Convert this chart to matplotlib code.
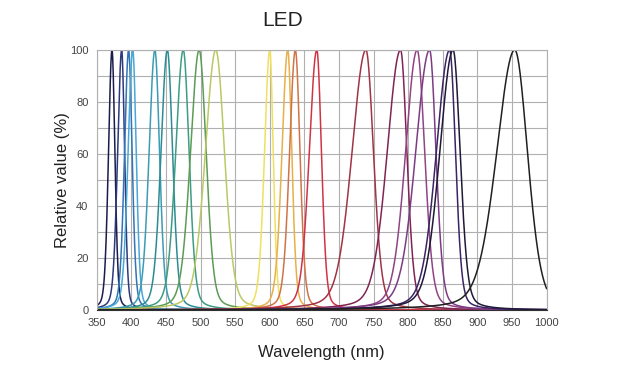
import numpy as np
import matplotlib.pyplot as plt

# peak wavelength (nm) of each LED
peaks = [372, 386, 396, 402, 434, 452, 475, 498, 522,
         600, 626, 637, 668, 739, 789, 813, 831, 860, 865, 954]
# half width at half max, short side / long side (nm), estimated
hw_left = [6, 7, 7, 8, 10, 11, 13, 15, 18,
           9, 10, 10, 13, 24, 23, 20, 24, 23, 23, 31]
hw_right = [5, 5, 6, 6, 8, 9, 10, 12, 15,
            6, 7, 8, 8, 13, 11, 13, 11, 10, 12, 22]
colors = ['#1c1c4c', '#2c3a7c', '#3474b4', '#48a8d8', '#3c9cb4', '#2c8c94',
          '#3c9c84', '#5c9c54', '#bcc864', '#f0e060', '#e8b048', '#d07448',
          '#d03444', '#a03444', '#802454', '#904484', '#7c3c84', '#3c2464',
          '#201838', '#202020']

plt.rcParams['font.family'] = ['Liberation Sans', 'DejaVu Sans']

fig = plt.figure(figsize=(6.43, 3.75), dpi=100)
ax = fig.add_axes([0.1505, 0.1733, 0.6995, 0.6934])

wl = np.linspace(350, 1000, 1500)
for p, hl, hr, c in zip(peaks, hw_left, hw_right, colors):
    hw = np.where(wl < p, hl, hr)
    u = (wl - p) / hw
    y = 100 * (0.75 * np.exp(-np.log(2) * u**2) + 0.25 / (1 + u**2))
    ax.plot(wl, y, color=c, lw=1.1)

ax.set_xlim(350, 1000)
ax.set_ylim(0, 100)
ax.set_xticks(np.arange(350, 1001, 50))
ax.set_yticks(np.arange(0, 101, 20))
ax.set_yticks(np.arange(0, 101, 10), minor=True)
ax.grid(True, which='both', color='#b0b0b0', lw=0.8)
ax.set_axisbelow(True)
ax.tick_params(length=0, labelsize=8, colors='#444444')
ax.tick_params(axis='x', pad=6)
ax.tick_params(axis='y', pad=6)
ax.tick_params(which='minor', length=0)
for s in ax.spines.values():
    s.set_color('#b0b0b0')
    s.set_linewidth(0.8)
ax.spines['bottom'].set_color('#303030')

ax.set_xlabel('Wavelength (nm)', fontsize=12, labelpad=12, color='#222222')
ax.set_ylabel('Relative value (%)', fontsize=12, labelpad=0, color='#222222')
fig.text(0.44, 0.945, 'LED', fontsize=15, ha='center', va='center', color='#222222')

fig.savefig('out.png', dpi=100)
